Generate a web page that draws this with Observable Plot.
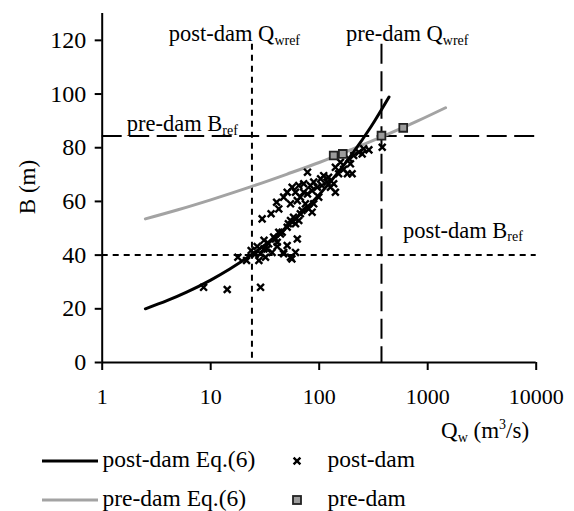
<!DOCTYPE html>
<html>
<head>
<meta charset="utf-8">
<script src="https://cdn.jsdelivr.net/npm/d3@7"></script>
<script src="https://cdn.jsdelivr.net/npm/@observablehq/plot@0.6"></script>
<style>
  body { margin: 0; background: #fff; font-family: "Liberation Serif", Tinos, "Times New Roman", Times, "DejaVu Serif", serif; }
  #wrap { position: relative; width: 574px; height: 511px; overflow: hidden; }
  #chart svg { display: block; }
  .legend { position: absolute; left: 0; top: 448px; width: 574px; height: 63px; }
  .sw { position: absolute; }
  .lt { position: absolute; font-size: 23.5px; line-height: 24px; color: #000; white-space: nowrap; }
</style>
</head>
<body>
<div id="wrap">
  <div id="chart"></div>
  <div class="legend" id="legend"></div>
</div>
<script>
// Axis ticks
const xTicks = [1, 10, 100, 1000, 10000];
const yTicks = [0, 20, 40, 60, 80, 100, 120];

// Post-dam measured channel width B (m) against discharge Qw (m3/s)
const postDamQ = [8.6, 14.2, 28.8, 17.8, 21.4, 23.6, 26.8, 28.8, 27.8, 32, 30.9, 34.2, 36.8, 39.5, 41, 44, 47, 54.4, 60.5, 62.8, 50.7,
  29.8, 36, 40.5, 42.4, 47, 50.7, 56.3, 60.5, 64.8, 67, 72, 74.6, 80, 78, 86, 69.5, 58, 54.4, 50.7, 45.6, 60.5, 64.8, 67,
  89, 96, 86, 103, 110, 118, 127, 136, 141, 122, 106, 99, 89, 78, 83, 72, 62.8, 54.4,
  151, 168, 182, 194, 188, 201, 208, 232, 257, 287, 249, 381, 157, 141,
  38, 42.4, 52, 47, 56, 33, 41, 25.5, 31];
const postDamB = [28, 27.2, 28, 39.2, 38, 41.7, 43.2, 40.5, 38, 39.2, 42.3, 44.2, 41, 46, 43.2, 47.9, 41, 39.2, 41, 46, 43.6,
  53.5, 55.4, 59.7, 57.2, 61.6, 63.4, 65.3, 63.4, 65.9, 61.6, 66.6, 59.1, 57.2, 70.9, 56, 56.6, 54.1, 52.9, 50.4, 48.5, 51.7, 52.9, 55.4,
  67.2, 65.3, 64, 68.4, 69.6, 67.2, 65.3, 66.6, 63.4, 69, 65.9, 61.6, 59.1, 62.8, 65.9, 63.4, 60.3, 59.1,
  70.3, 72, 70.3, 74, 75.9, 70.3, 77.1, 78.3, 79.6, 79.2, 77.7, 80.2, 74.6, 72.7,
  46.7, 48.5, 51.7, 40.5, 38.6, 42.3, 44.8, 40.2, 45.5];

// Pre-dam measured widths
const preDamQ = [136, 165, 375, 595];
const preDamB = [77.1, 77.7, 84.5, 87.4];

// Eq.(6) curves
const postEqQ = [2.5, 4, 6, 10, 15, 24, 40, 60, 100, 150, 200, 300, 440];
const postEqB = [20.0, 23.1, 26.2, 30.7, 34.8, 40.3, 47.1, 53.4, 62.5, 70.9, 77.5, 87.8, 98.9];
const preEqQ = [2.5, 5, 10, 24, 50, 100, 200, 400, 800, 1460];
const preEqB = [53.5, 56.9, 60.6, 65.6, 70.1, 74.5, 79.4, 84.5, 89.9, 94.9];

// Reference discharge and width: [post-dam, pre-dam]
const refQw = [24, 375];
const refB = [40, 84.4];

const pairs = (qs, bs) => qs.map((q, i) => ({Q: q, B: bs[i]}));
const postDam = pairs(postDamQ, postDamB);
const preDam = pairs(preDamQ, preDamB);
const postEq = pairs(postEqQ, postEqB);
const preEq = pairs(preEqQ, preEqB);

const GRAY = "#a3a3a3";
const FONT = '"Liberation Serif", Tinos, "Times New Roman", Times, "DejaVu Serif", serif';

const chart = Plot.plot({
  width: 574,
  height: 448,
  marginLeft: 101.7,
  marginRight: 38.3,
  marginTop: 13,
  marginBottom: 86,
  style: {fontFamily: FONT, color: "#000", background: "#fff", overflow: "visible"},
  x: {type: "log", domain: [1, 10000]},
  y: {domain: [0, 130]},
  marks: [
    // reference lines
    Plot.ruleY([refB[0]], {x1: 1, x2: 10000, stroke: "#000", strokeWidth: 2, strokeDasharray: "6,5"}),
    Plot.ruleY([refB[1]], {x1: 1, x2: 10000, stroke: "#000", strokeWidth: 2, strokeDasharray: "20,7.5"}),
    Plot.ruleX([refQw[0]], {y1: 118.5, y2: 0, stroke: "#000", strokeWidth: 2, strokeDasharray: "6,5"}),
    Plot.ruleX([refQw[1]], {y1: 118.5, y2: 0, stroke: "#000", strokeWidth: 2, strokeDasharray: "20,7.5"}),
    // axes
    Plot.axisX(xTicks, {tickSize: 8, tickPadding: 18, fontSize: 22, strokeWidth: 2, label: null, tickFormat: d => String(d)}),
    Plot.axisY(yTicks, {tickSize: 7, tickPadding: 9, fontSize: 24, strokeWidth: 2, label: null, tickFormat: d => String(d)}),
    Plot.ruleX([1], {stroke: "#000", strokeWidth: 2}),
    Plot.ruleY([0], {stroke: "#000", strokeWidth: 2}),
    // Eq.(6) curves
    Plot.line(preEq, {x: "Q", y: "B", stroke: GRAY, strokeWidth: 3, curve: "monotone-x"}),
    Plot.line(postEq, {x: "Q", y: "B", stroke: "#000", strokeWidth: 3, curve: "monotone-x"}),
    // measurements
    Plot.dot(postDam, {x: "Q", y: "B", symbol: "times", r: 3.2, stroke: "#000", strokeWidth: 2.4}),
    Plot.dot(preDam, {x: "Q", y: "B", symbol: "square", r: 4.4, fill: "#9c9c9c", stroke: "#222", strokeWidth: 1.8})
  ]
});

document.getElementById("chart").appendChild(chart);

// Text labels with sub/superscripts, placed through the plot's scales
const sx = chart.scale("x"), sy = chart.scale("y");
const svg = d3.select(chart);

function richText(x, y, parts, size, small) {
  const t = svg.append("text")
    .attr("x", x).attr("y", y)
    .attr("text-anchor", "start")
    .attr("font-family", FONT)
    .attr("font-size", size)
    .attr("fill", "#000");
  let shift = 0;
  for (const p of parts) {
    const target = p.sub ? 3.5 : p.sup ? -9 : 0;
    t.append("tspan")
      .attr("dy", target - shift)
      .attr("font-size", p.sub || p.sup ? small : size)
      .text(p.t);
    shift = target;
  }
  return t;
}

richText(sx.apply(refQw[0]) - 82.7, sy.apply(118.5) - 2.5,
  [{t: "post-dam Q"}, {t: "wref", sub: true}], 22.5, 14);
richText(sx.apply(refQw[1]) - 35, sy.apply(118.5) - 2.5,
  [{t: "pre-dam Q"}, {t: "wref", sub: true}], 22.5, 14);
richText(sx.apply(1) + 25, sy.apply(refB[1]) - 4,
  [{t: "pre-dam B"}, {t: "ref", sub: true}], 22.5, 14);
richText(sx.apply(refQw[1]) + 22, sy.apply(refB[0]) - 17,
  [{t: "post-dam B"}, {t: "ref", sub: true}], 22.5, 14);

// axis titles
richText(441, 438, [{t: "Q"}, {t: "w", sub: true}, {t: " (m"}, {t: "3", sup: true}, {t: "/s)"}], 23, 14);
svg.append("text")
  .attr("transform", "translate(35,187) rotate(-90)")
  .attr("text-anchor", "middle")
  .attr("font-family", FONT)
  .attr("font-size", 23)
  .attr("fill", "#000")
  .text("B (m)");

// Legend below the plot
const legend = document.getElementById("legend");
const rows = [
  {line: "#000", label: "post-dam Eq.(6)", marker: "times", mlabel: "post-dam"},
  {line: GRAY, label: "pre-dam Eq.(6)", marker: "square", mlabel: "pre-dam"}
];
const rowY = [12.5, 52];
rows.forEach((r, i) => {
  const cy = rowY[i];
  const sw = d3.create("svg").attr("class", "sw").attr("width", 60).attr("height", 10)
    .style("left", "40px").style("top", (cy - 5) + "px");
  sw.append("line").attr("x1", 2).attr("x2", 58).attr("y1", 5).attr("y2", 5)
    .attr("stroke", r.line).attr("stroke-width", 3);
  legend.appendChild(sw.node());

  const tx = document.createElement("div");
  tx.className = "lt";
  tx.style.left = "102.5px";
  tx.style.top = (cy - 14) + "px";
  tx.textContent = r.label;
  legend.appendChild(tx);

  const ms = d3.create("svg").attr("class", "sw").attr("width", 16).attr("height", 16)
    .style("left", "288.5px").style("top", (cy - 8) + "px");
  if (r.marker === "times") {
    ms.append("path").attr("d", "M4.6,4.6L11.4,11.4M4.6,11.4L11.4,4.6")
      .attr("stroke", "#000").attr("stroke-width", 2.4);
  } else {
    ms.append("rect").attr("x", 4).attr("y", 4).attr("width", 8).attr("height", 8)
      .attr("fill", "#9c9c9c").attr("stroke", "#222").attr("stroke-width", 1.8);
  }
  legend.appendChild(ms.node());

  const mt = document.createElement("div");
  mt.className = "lt";
  mt.style.left = "327.6px";
  mt.style.top = (cy - 14) + "px";
  mt.textContent = r.mlabel;
  legend.appendChild(mt);
});
</script>
</body>
</html>
